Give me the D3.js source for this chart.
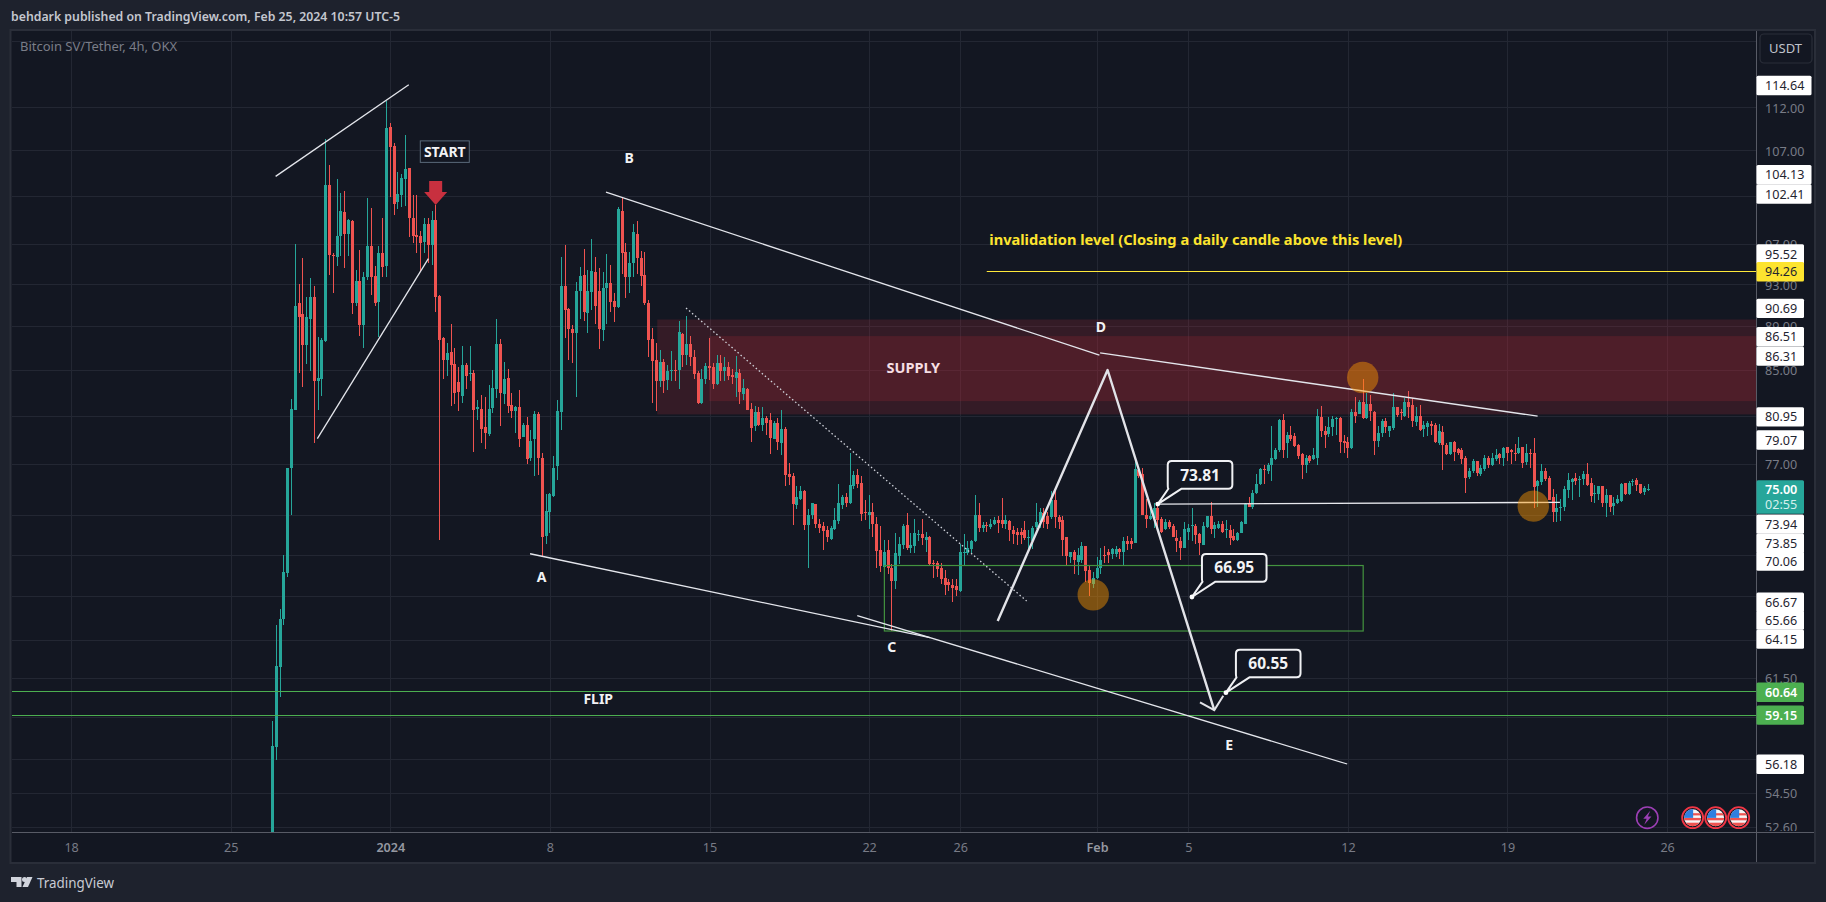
<!DOCTYPE html>
<html><head><meta charset="utf-8">
<script src="https://cdn.jsdelivr.net/npm/d3@7/dist/d3.min.js"></script>
<style>html,body{margin:0;padding:0;background:#1e222d;overflow:hidden}svg{display:block}</style>
</head><body><svg id="c" width="1826" height="902"></svg>
<script>
// ---- candle data: 4h candles ----
const opens = [
50,57.2,62.2,65.4,68.7,76.7,81.5,91.2,90.1,87.2,
89.6,91.7,84.0,84.2,87.6,103.2,95.9,95.7,97.8,100.3,
98.0,99.4,91.2,93.3,89.1,93.7,96.8,93.8,91.3,96.1,
94.8,109.7,107.5,101.3,102.1,103.8,105.0,99.7,97.9,97.8,
97.1,99.1,96.9,99.5,91.8,87.9,85.9,86.6,85.5,83.9,
82.7,85.4,84.6,84.7,81.5,81.6,80.0,79.5,81.7,83.3,
87.3,82.9,84.3,81.9,81.4,81.7,79.2,80.2,77.5,79.0,
81.1,77.5,71.4,73.2,74.5,76.8,81.3,92.8,90.6,88.7,
88.3,92.3,93.9,90.2,92.2,94.2,92.3,88.6,92.6,93.1,
91.4,90.8,100.4,96.2,93.7,95.1,98.0,95.6,93.9,91.2,
87.8,85.9,84.0,85.7,84.1,84.9,85.0,84.9,88.2,86.3,
87.3,86.1,84.7,82.1,84.1,85.3,85.2,83.7,85.6,84.8,
85.2,84.5,84.3,84.7,82.9,83.3,81.6,80.1,81.3,80.2,
80.8,80.6,79.1,80.4,78.7,79.9,76.2,76.0,73.8,74.2,
74.8,72.2,73.0,73.8,72.3,72.1,71.8,71.2,71.9,72.5,
73.8,74.4,73.9,75.2,76.1,75.5,73.2,73.0,73.2,72.3,
70.3,69.1,70.3,69.0,68.1,69.9,70.7,72.2,70.5,70.6,
71.5,71.5,71.1,71.3,69.4,69.4,69.0,68.3,68.0,67.8,
67.7,67.4,70.15,70.1,70.4,71.0,73.0,72.0,72.2,72.1,
72.3,72.6,72.6,72.3,72.5,71.8,71.7,71.7,71.8,71.25,
71.0,72.0,72.4,73.1,72.9,72.8,74.1,72.8,72.6,71.3,
69.8,70.2,69.5,69.6,70.6,68.9,67.9,68.3,69.0,70.0,
70.2,70.0,70.0,70.4,70.2,71.0,71.0,70.9,76.5,76.2,
73.0,72.7,72.7,73.5,72.7,71.9,72.4,72.1,71.2,71.0,
70.5,71.7,72.1,72.1,71.5,70.7,72.1,72.9,71.9,72.0,
72.3,71.8,71.8,71.4,71.1,71.6,72.3,73.9,73.6,74.7,
75.4,76.6,76.4,76.9,77.4,78.1,80.6,78.7,79.4,79.3,
78.5,77.8,76.9,77.6,77.4,77.5,80.9,79.7,79.4,80.0,
80.75,80.8,78.9,78.8,78.3,81.3,81.2,82.2,80.8,82.0,
81.3,78.8,79.5,80.5,79.7,79.9,81.7,81.3,81.0,82.2,
81.9,80.5,81.0,79.9,80.1,80.3,80.2,78.7,79.6,78.5,
77.8,78.8,78.2,78.1,77.5,75.9,76.4,77.2,76.2,76.6,
77.5,76.9,77.4,77.8,77.5,78.4,78.1,77.9,77.9,78.4,
77.2,77.9,77.9,75.2,75.5,76.4,75.9,74.4,73.2,73.5,
73.6,74.9,75.6,75.9,75.75,75.8,76.2,75.5,74.6,74.6,
75.2,73.9,74.5,73.7,73.9,74.1,75.5,74.6,75.5,75.7,
75.4,74.8,75.0];
const highs = [
58.8,65.0,66.1,70.0,76.7,82.4,97.0,93.0,95.6,91.7,
93.6,92.8,88.0,87.9,108.3,105.4,96.1,103.8,102.3,102.5,
99.6,99.5,94.4,96.4,94.2,101.8,100.7,94.8,96.8,99.7,
112.7,110.1,107.9,104.6,104.4,108.7,105.0,102.1,102.1,98.3,
99.7,99.7,100.4,101.1,91.9,88.0,87.4,89.2,87.0,85.2,
87.1,85.6,87.1,85.0,82.3,82.8,82.6,83.6,85.0,89.6,
87.8,85.7,85.1,82.9,81.8,83.2,80.4,80.9,79.8,81.4,
81.3,77.9,74.6,74.7,77.6,82.3,95.7,96.9,90.7,89.1,
93.2,94.7,96.5,94.4,97.5,95.7,94.6,94.2,96.0,94.9,
92.1,100.8,101.9,97.1,96.2,99.0,99.4,96.3,96.2,91.5,
88.8,87.4,86.8,86.0,85.4,86.7,85.9,89.5,88.3,89.9,
88.1,86.8,84.9,85.1,85.6,87.9,85.6,86.3,86.3,86.1,
85.7,85.1,86.2,85.1,84.2,83.4,82.1,81.8,81.7,81.7,
81.0,81.2,80.5,80.8,81.5,80.0,77.1,76.3,75.2,75.2,
74.9,73.4,73.9,73.8,72.7,72.4,72.1,72.1,73.5,75.4,
74.5,74.7,77.9,76.4,76.6,76.0,74.1,74.5,73.9,72.8,
72.1,71.1,71.1,69.3,71.6,71.3,72.3,73.1,71.6,72.7,
71.8,72.7,71.7,71.4,69.6,69.5,69.4,68.9,68.2,68.2,
68.2,70.8,71.5,71.0,71.1,74.5,73.9,72.4,72.4,72.7,
72.8,72.9,74.3,73.0,72.6,72.1,72.0,72.0,72.5,71.8,
72.1,73.9,73.5,73.5,73.2,74.8,74.9,73.0,72.9,71.3,
70.2,70.3,70.5,70.9,70.6,69.2,68.7,69.8,70.5,70.6,
70.4,70.5,70.6,70.5,71.3,71.4,71.2,77.4,76.7,76.7,
74.2,73.5,73.9,73.9,72.8,72.7,72.6,72.3,71.8,71.3,
72.4,72.3,73.5,72.3,71.6,72.4,72.9,74.0,72.4,72.5,
72.5,72.6,72.2,71.9,71.7,72.5,73.9,74.4,74.9,76.2,
76.7,76.9,77.1,80.1,78.3,80.7,81.1,79.6,80.1,79.5,
78.6,77.9,77.7,77.7,78.3,81.6,81.8,80.1,80.9,81.0,
80.9,80.9,79.4,79.2,81.6,82.6,82.3,84.2,82.9,82.8,
81.4,80.1,80.7,80.8,80.1,82.9,81.7,81.6,82.5,83.1,
82.5,81.7,81.9,80.5,80.5,80.5,80.4,80.3,80.1,78.7,
78.8,78.9,78.3,78.3,77.6,76.7,77.4,77.2,76.9,77.7,
77.6,77.9,78.2,77.9,78.4,78.4,78.2,78.6,79.2,78.4,
78.6,78.2,79.1,75.7,77.0,76.7,76.0,75.0,74.6,74.2,
75.2,76.3,75.9,76.3,76.0,76.4,77.1,75.9,75.3,75.25,
75.2,75.0,74.5,74.4,74.5,75.5,75.5,75.6,75.8,75.9,
75.4,75.2,75.4];
const lows = [
49,56.4,60.3,65.0,68.4,73.0,81.5,84.7,83.5,85.5,
84.9,78.7,81.5,82.7,87.5,93.9,92.1,94.8,95.8,94.6,
95.8,90.1,90.9,88.1,87.0,93.4,91.9,90.9,88.0,93.7,
93.7,101.9,100.0,100.6,100.8,100.9,97.7,97.1,96.1,94.3,
96.1,95.1,94.9,90.3,71.1,84.2,84.4,81.8,82.0,81.4,
82.1,83.3,84.0,78.0,80.6,78.7,78.2,79.3,81.2,82.5,
80.1,82.0,81.2,80.8,79.5,78.4,79.2,77.0,77.2,76.0,
76.1,69.9,70.8,71.6,74.4,75.7,79.8,87.9,85.9,85.6,
82.6,89.6,89.5,88.3,90.5,89.2,86.9,87.6,89.2,90.3,
89.4,90.7,94.0,91.6,92.1,93.7,94.0,92.8,91.0,86.1,
82.1,81.4,83.5,82.9,83.2,84.0,84.0,83.3,85.2,85.4,
85.3,84.2,82.0,82.0,83.7,84.1,83.3,83.6,84.0,84.0,
84.1,83.7,82.6,82.0,82.3,81.5,78.8,79.7,80.1,79.7,
79.4,77.8,79.0,78.1,77.7,75.2,75.3,72.2,73.4,74.1,
71.8,69.0,72.7,72.0,71.6,70.3,70.9,71.1,71.8,72.3,
73.4,73.6,73.8,75.0,75.1,72.5,72.6,71.9,71.3,69.0,
68.7,69.0,68.6,64.6,67.5,69.3,70.4,70.3,70.1,70.1,
71.0,70.7,70.2,69.2,68.3,68.4,67.9,67.1,67.4,66.6,
67.0,67.3,69.2,70.0,70.1,70.9,71.7,71.7,71.7,71.9,
72.2,71.6,72.0,71.9,71.0,70.8,70.7,70.8,71.1,70.2,
70.4,71.9,72.0,72.0,71.9,72.7,72.0,71.9,69.9,69.2,
69.4,68.6,68.5,69.4,68.0,67.0,67.6,68.2,68.6,69.4,
69.4,69.7,69.8,69.7,69.2,70.3,70.4,70.9,75.9,73.0,
72.0,72.6,72.0,71.9,71.6,71.8,71.9,71.3,70.2,69.6,
70.5,71.1,71.0,70.8,70.0,70.7,72.0,71.5,71.2,71.9,
71.6,71.2,70.7,71.0,71.0,71.6,72.3,73.6,73.4,74.6,
75.3,75.4,76.2,75.6,77.3,78.0,77.5,77.5,78.9,78.4,
77.4,75.8,76.3,77.1,77.3,76.9,79.2,78.3,79.2,79.3,
79.4,77.9,77.9,77.5,78.2,80.4,81.1,80.7,80.7,80.5,
77.7,78.4,79.2,79.5,79.2,79.8,80.9,80.6,80.9,80.8,
80.0,80.1,79.7,79.2,79.3,79.4,78.7,78.5,76.5,77.7,
77.7,77.2,77.7,77.0,74.7,75.8,76.3,76.0,76.0,76.4,
76.7,76.8,77.2,77.0,76.8,77.2,77.0,77.2,77.8,76.7,
76.9,76.7,73.5,73.6,75.3,75.6,74.1,72.4,72.4,72.5,
73.3,74.3,74.1,75.3,74.4,75.3,75.2,74.0,73.9,74.1,
73.6,72.8,73.2,73.0,73.8,74.0,74.5,74.5,75.2,74.8,
74.6,74.5,74.8];
const closes = [
57.25,62.3,65.4,68.7,76.7,81.6,90.9,89.9,87.2,89.8,
91.7,84.0,84.3,87.7,103.2,95.9,95.8,97.8,100.4,98.0,
99.5,91.2,93.3,89.1,93.7,96.8,93.7,91.2,96.1,94.7,
109.6,107.4,101.2,102.2,103.9,104.9,99.6,97.8,97.7,97.1,
99.0,96.9,99.5,91.8,87.7,85.9,86.5,85.4,82.9,83.0,
85.4,84.4,84.7,81.5,81.7,79.9,79.5,81.6,83.4,87.3,
82.9,84.2,81.9,81.4,81.7,79.0,80.2,77.4,78.9,81.1,
77.4,71.3,73.3,74.6,76.7,81.4,92.8,90.5,88.7,88.3,
92.3,93.8,90.3,92.3,94.3,90.9,88.7,92.6,93.1,91.3,
90.8,100.6,96.1,93.7,95.1,98.2,95.6,93.8,91.2,87.7,
85.8,84.0,85.7,84.0,84.9,85.0,84.9,88.4,86.3,87.3,
86.1,84.6,82.1,84.2,85.3,85.1,83.7,85.6,84.9,85.2,
84.4,84.3,84.8,83.0,83.4,81.5,80.0,81.3,80.2,80.8,
80.4,79.1,80.4,78.8,79.9,76.1,76.0,73.8,74.4,74.8,
72.2,73.0,73.9,72.3,72.0,71.7,71.3,72.0,72.6,73.9,
74.4,73.9,75.3,76.1,75.4,73.1,73.1,73.2,72.3,70.3,
69.1,70.2,69.0,68.1,70.1,70.8,72.1,70.5,70.7,71.6,
71.55,71.2,71.3,69.3,69.3,69.0,68.2,67.8,67.8,67.6,
67.4,70.2,70.2,70.5,71.0,73.0,72.0,72.2,72.1,72.3,
72.6,72.4,72.3,72.6,71.8,71.5,71.5,71.5,71.2,71.3,
72.0,72.4,73.2,72.4,72.3,74.1,72.8,72.4,71.1,69.9,
70.2,69.6,70.0,70.6,68.8,68.0,68.3,69.0,69.6,69.9,
70.0,70.4,70.4,70.2,71.0,70.8,70.8,76.6,76.0,73.0,
72.7,72.9,73.5,72.6,71.7,72.4,72.0,71.3,71.0,70.5,
71.9,72.0,72.2,71.4,70.8,72.1,72.9,71.9,72.2,72.3,
71.7,71.9,71.2,71.1,71.6,72.4,73.8,73.6,74.7,75.4,
76.6,76.5,76.9,77.5,78.1,80.6,78.1,79.4,79.1,78.5,
77.6,76.9,77.5,77.2,77.7,81.0,79.7,79.4,80.0,80.7,
80.8,78.8,78.7,78.3,81.3,81.0,82.2,80.8,82.0,81.4,
78.9,79.5,80.5,80.0,80.1,81.7,81.0,81.2,82.2,81.8,
80.5,81.0,79.8,80.2,80.4,80.1,78.8,79.7,78.5,77.8,
78.8,78.0,77.9,77.4,75.9,76.4,77.2,76.2,76.7,77.5,
76.9,77.5,77.7,77.5,78.3,77.9,77.9,77.85,78.3,77.1,
77.9,77.85,75.2,75.6,76.4,75.8,74.2,73.2,73.5,73.6,
75.0,75.7,75.8,75.7,75.8,76.2,75.3,74.5,74.7,75.2,
73.9,74.5,73.6,73.9,74.2,75.4,74.6,75.5,75.6,75.3,
74.7,75.1,75.0];
const firstCandleDay = -5.1667; // days from 1 Jan 2024
const candleStep = 1 / 6;       // 4h in days

// ---- axes ----
const xTickDays   = [-14, -7, 0, 7, 14, 21, 25, 31, 35, 42, 49, 56];
const xTickLabels = ["18", "25", "2024", "8", "15", "22", "26", "Feb", "5", "12", "19", "26"];
const yTicks = [120, 112, 107, 102, 97, 93, 89, 85, 81, 77, 73, 70, 67, 64, 61.5, 59, 56.5, 54.5, 52.6];
const yTickLabelled = [112, 107, 97, 93, 89, 85, 77, 61.5, 54.5, 52.6];

// ---- price labels on the right axis ----
const labelValues = [114.64,104.13,102.41,95.52,94.26,90.69,86.51,86.31,80.95,79.07,73.94,73.85,70.06,66.67,65.66,64.15,60.64,59.15,56.18];
const labelNudges = [0.7,-1.7,1.8,-4.5,0.5,0.4,-16.2,1,0.7,1.5,21.7,39.5,7.4,1.1,4.6,1.5,1,0.2,0.2];
const lastPrice = 75.00, countdown = "02:55";

// ---- drawings [day, price] ----
const trendLines = [
  [[-5.03,104.13],[0.81,114.64]],
  [[-3.20,79.07],[1.67,95.52]],
  [[9.46,102.41],[31.10,86.31]],
  [[31.13,86.51],[50.32,80.95]],
  [[6.13,70.06],[23.67,64.15]],
  [[20.48,65.66],[41.97,56.18]]
];
const dottedLine = [[12.97,90.69],[27.91,66.67]];
const levelLine  = [33.66,73.81,51.3,73.94];
const zigzag     = [[26.64,65.28],[31.46,84.97],[36.14,59.45]];
const invalidationLevel = 94.26, invalidationStart = 26.16;
const flipLevels = [60.64, 59.15];
const greenBox   = [21.67,69.2,42.67,64.6];
const supplyOuter = [11.71,89.6,81.1];
const supplyInner = [13.99,88.05,82.24];
const circleDays   = [30.83,42.65,50.13];
const circlePrices = [67.1,84.3,73.65];
const calloutDays   = [33.66,35.16,36.65];
const calloutPrices = [73.81,66.95,60.55];
const letterText  = ["A","B","C","D","E","FLIP"];
const letterDays  = [6.64,10.48,21.99,31.17,36.79,9.12];
const letterPrice = [68.46,106.3,63.6,88.98,57.35,60.2];
const startDay = 2.39, startPrice = 106.9, arrowDay = 1.99, arrowPrice = 101.05;
const supplyDay = 22.94, supplyPrice = 85.2;
const noteText = "invalidation level (Closing a daily candle above this level)";
const noteDay = 26.27, notePrice = 97.4;
const boltDay = 55.13, flagDays = [57.12,58.13,59.14];

// ---- layout ----
const FF = '"Noto Sans","Open Sans",sans-serif';
const plot = {l:12, r:1756, t:31, b:832, R:1814, B:862};
const x = d3.scaleLinear().domain([-14,56]).range([71.1,1667.1]);
const y = d3.scaleLog().domain([112,52.6]).range([107,826.7]);
const svg = d3.select("#c");
const defs = svg.append("defs");
defs.append("clipPath").attr("id","plotClip").append("rect")
  .attr("x",plot.l).attr("y",plot.t).attr("width",plot.r-plot.l).attr("height",plot.b-plot.t);
defs.append("clipPath").attr("id","axisClip").append("rect")
  .attr("x",plot.r).attr("y",plot.t).attr("width",plot.R-plot.r).attr("height",plot.b-plot.t-1);

svg.append("rect").attr("width",1826).attr("height",902).attr("fill","#1e222d");
svg.append("rect").attr("x",10.5).attr("y",30).attr("width",1804.5).attr("height",833)
  .attr("fill","#131722").attr("stroke","#2a2e39").attr("stroke-width",2);

svg.append("text").attr("x",11).attr("y",20.5).attr("fill","#c4c7cf")
  .attr("font-family",FF).attr("font-size",13.2).attr("font-weight",600)
  .attr("textLength",389).attr("lengthAdjust","spacingAndGlyphs")
  .text("behdark published on TradingView.com, Feb 25, 2024 10:57 UTC-5");

// grid
const main = svg.append("g").attr("clip-path","url(#plotClip)");
const gridColor = "#232733";
main.selectAll("line.gv").data(xTickDays).join("line")
  .attr("x1",d=>Math.round(x(d))+.5).attr("x2",d=>Math.round(x(d))+.5)
  .attr("y1",plot.t).attr("y2",plot.b).attr("stroke",gridColor);
main.selectAll("line.gh").data(yTicks).join("line")
  .attr("x1",plot.l).attr("x2",plot.r)
  .attr("y1",d=>Math.round(y(d))+.5).attr("y2",d=>Math.round(y(d))+.5).attr("stroke",gridColor);

main.append("text").attr("x",20).attr("y",50.5).attr("fill","#7a7d88")
  .attr("font-family",FF).attr("font-size",13).text("Bitcoin SV/Tether, 4h, OKX");

// supply zones
const supplyFill = "#b22838";
[supplyOuter, supplyInner].forEach(z=>{
  main.append("rect").attr("x",x(z[0])).attr("width",plot.r-x(z[0]))
    .attr("y",y(z[1])).attr("height",y(z[2])-y(z[1])).attr("fill",supplyFill).attr("fill-opacity",.215);
});
main.append("text").attr("x",x(supplyDay)).attr("y",y(supplyPrice)).attr("dy","0.4em").attr("text-anchor","middle")
  .attr("fill","#f6dfe3").attr("font-family",FF).attr("font-size",14.5).attr("font-weight",700).text("SUPPLY");

// candles
const candles = opens.map((o,i)=>({o,h:highs[i],l:lows[i],c:closes[i],d:firstCandleDay+i*candleStep}));
const colr = d=>d.c>=d.o?"#26a69a":"#ef5350";
const cg = main.append("g").attr("shape-rendering","crispEdges");
cg.selectAll("rect.w").data(candles).join("rect")
  .attr("x",d=>Math.round(x(d.d)-.5)).attr("width",1)
  .attr("y",d=>y(d.h)).attr("height",d=>Math.max(1,y(d.l)-y(d.h))).attr("fill",colr);
cg.selectAll("rect.b").data(candles).join("rect")
  .attr("x",d=>Math.round(x(d.d)-.5)-1).attr("width",3)
  .attr("y",d=>Math.round(y(Math.max(d.o,d.c))))
  .attr("height",d=>Math.max(1,Math.round(Math.abs(y(d.o)-y(d.c))))).attr("fill",colr);

// horizontal levels and box
const crisp = v=>Math.round(y(v))+.5;
main.append("line").attr("x1",x(invalidationStart)).attr("x2",plot.r)
  .attr("y1",crisp(invalidationLevel)).attr("y2",crisp(invalidationLevel)).attr("stroke","#ffe93b");
main.selectAll("line.fl").data(flipLevels).join("line")
  .attr("x1",plot.l).attr("x2",plot.r).attr("y1",d=>crisp(d)+(d<60?.0:0)).attr("y2",d=>crisp(d)).attr("stroke","#4caf50");
main.append("rect").attr("x",x(greenBox[0])).attr("y",y(greenBox[1]))
  .attr("width",x(greenBox[2])-x(greenBox[0])).attr("height",y(greenBox[3])-y(greenBox[1]))
  .attr("fill","none").attr("stroke","#43933f").attr("stroke-width",1.2);

// lines
const ln = d3.line().x(d=>x(d[0])).y(d=>y(d[1]));
main.selectAll("path.t").data(trendLines).join("path").attr("d",ln)
  .attr("fill","none").attr("stroke","#e4e6ec").attr("stroke-width",1.3);
main.append("path").attr("d",ln(dottedLine)).attr("fill","none").attr("stroke","#d1d4dc")
  .attr("stroke-width",1.3).attr("stroke-dasharray","1.5 2.5");
main.append("path").attr("d",ln([[levelLine[0],levelLine[1]],[levelLine[2],levelLine[3]]]))
  .attr("fill","none").attr("stroke","#e8e9ee").attr("stroke-width",1.4);

// circles
main.selectAll("circle.o").data(circleDays).join("circle")
  .attr("cx",d=>x(d)).attr("cy",(d,i)=>y(circlePrices[i])).attr("r",15.7)
  .attr("fill","#ff9800").attr("fill-opacity",.45);

// zigzag with arrow head
main.append("path").attr("d",ln(zigzag)).attr("fill","none").attr("stroke","#e2e3e8")
  .attr("stroke-width",2.4).attr("stroke-linejoin","round");
const tip = zigzag[2];
main.append("path").attr("d",`M${x(tip[0])-14.3},${y(tip[1])-7.7}L${x(tip[0])},${y(tip[1])}L${x(tip[0])+9},${y(tip[1])-14.3}`)
  .attr("fill","none").attr("stroke","#e2e3e8").attr("stroke-width",2);

// text annotations
main.selectAll("text.l").data(letterText).join("text")
  .attr("x",(d,i)=>x(letterDays[i])).attr("y",(d,i)=>y(letterPrice[i])).attr("dy","0.42em")
  .attr("text-anchor","middle").attr("fill","#f2f3f5").attr("font-family",FF).attr("font-size",14).attr("font-weight",700).text(d=>d);
main.append("text").attr("x",x(noteDay)).attr("y",y(notePrice)).attr("dy","0.36em")
  .attr("fill","#fde42f").attr("font-family",FF).attr("font-size",14).attr("font-weight",700)
  .attr("textLength",413).attr("lengthAdjust","spacingAndGlyphs").text(noteText);

// START tag + arrow
const sx=x(startDay), sy=y(startPrice);
main.append("rect").attr("x",sx-24.5).attr("y",sy-10.5).attr("width",49).attr("height",21.5)
  .attr("fill","#131722").attr("stroke","#5a6a7a");
main.append("text").attr("x",sx).attr("y",sy).attr("dy","0.42em").attr("text-anchor","middle")
  .attr("fill","#f2f3f5").attr("font-family",FF).attr("font-size",14).attr("font-weight",700).text("START");
const ax=x(arrowDay), ay=y(arrowPrice);
main.append("path").attr("fill","#c8303f")
  .attr("d",`M${ax},${ay}L${ax-11.5},${ay-13}L${ax-6.5},${ay-13}L${ax-6.5},${ay-24}L${ax+6.5},${ay-24}L${ax+6.5},${ay-13}L${ax+11.5},${ay-13}Z`);

// callouts
calloutPrices.forEach((p,i)=>{
  const tx=x(calloutDays[i]), ty=y(p), L=tx+10, R=tx+74.6, T=ty-43, B=ty-15.3, r=4;
  const g=main.append("g");
  g.append("path").attr("fill","#131722").attr("stroke","#f0f1f4").attr("stroke-width",2).attr("stroke-linejoin","round")
    .attr("d",`M${tx},${ty}L${L+13.5},${B}L${R-r},${B}Q${R},${B} ${R},${B-r}L${R},${T+r}Q${R},${T} ${R-r},${T}L${L+r},${T}Q${L},${T} ${L},${T+r}L${L},${B-r}Q${L},${B} ${L+0.6},${B}Z`);
  g.append("circle").attr("cx",tx).attr("cy",ty).attr("r",2.4).attr("fill","#fff");
  g.append("text").attr("x",(L+R)/2).attr("y",(T+B)/2).attr("dy","0.36em").attr("text-anchor","middle")
    .attr("fill","#f2f3f5").attr("font-family",FF).attr("font-size",15.5).attr("font-weight",700).text(p.toFixed(2));
});

// event icons
const iy=817.7;
const bx=x(boltDay);
main.append("circle").attr("cx",bx).attr("cy",iy).attr("r",10.7).attr("fill","#131722").attr("stroke","#9c3fb5").attr("stroke-width",1.6);
main.append("path").attr("fill","#9c3fb5").attr("d",`M${bx+3},${iy-7}L${bx-4},${iy+1}L${bx-0.6},${iy+1}L${bx-3},${iy+7}L${bx+4.2},${iy-1.2}L${bx+0.6},${iy-1.2}Z`);
flagDays.forEach((d,i)=>{
  const fx=x(d), id="fc"+i;
  defs.append("clipPath").attr("id",id).append("circle").attr("cx",fx).attr("cy",iy).attr("r",8.5);
  const g=main.append("g").attr("clip-path",`url(#${id})`);
  g.append("rect").attr("x",fx-9).attr("y",iy-9).attr("width",18).attr("height",18).attr("fill","#f5f5f5");
  [[-4.5,2.2],[0.2,2.4],[5,4.5]].forEach(s=>g.append("rect").attr("x",fx-9).attr("y",iy+s[0]).attr("width",18).attr("height",s[1]).attr("fill","#ef5350"));
  g.append("rect").attr("x",fx-9).attr("y",iy-9).attr("width",9.5).attr("height",9.2).attr("fill","#2f7fe0");
  main.append("circle").attr("cx",fx).attr("cy",iy).attr("r",10.5).attr("fill","none").attr("stroke","#f23645").attr("stroke-width",1.8);
});

// right axis panel
svg.append("rect").attr("x",plot.r).attr("y",31).attr("width",plot.R-plot.r).attr("height",831).attr("fill","#131722");
const yAxis = d3.axisRight(y).tickValues(yTickLabelled).tickSize(0).tickPadding(0).tickFormat(d3.format(".2f"));
const yg = svg.append("g").attr("clip-path","url(#axisClip)").append("g").attr("transform",`translate(${plot.r+9},1)`).call(yAxis);
yg.select(".domain").remove();
yg.selectAll("text").attr("fill","#787b86").attr("font-family",FF).attr("font-size",12.6);

// x axis
const xAxis = d3.axisBottom(x).tickValues(xTickDays).tickSize(0).tickPadding(0).tickFormat((d,i)=>xTickLabels[i]);
const xg = svg.append("g").attr("transform",`translate(0,${plot.b+11})`).call(xAxis);
xg.select(".domain").remove();
xg.selectAll("text").attr("fill",(d,i)=>/\D/.test(xTickLabels[i])||xTickLabels[i]==="2024"?"#9598a1":"#787b86")
  .attr("font-family",FF).attr("font-size",12.6)
  .attr("font-weight",(d,i)=>/\D/.test(xTickLabels[i])||xTickLabels[i]==="2024"?600:400);

svg.append("line").attr("x1",plot.l).attr("x2",plot.R).attr("y1",plot.b+.5).attr("y2",plot.b+.5).attr("stroke","#585b66");
svg.append("line").attr("x1",plot.r+.5).attr("x2",plot.r+.5).attr("y1",31).attr("y2",plot.B).attr("stroke","#585b66");

// USDT
svg.append("rect").attr("x",1760).attr("y",34).attr("width",52).attr("height",29).attr("rx",4)
  .attr("fill","#131722").attr("stroke","#2a2e39").attr("stroke-width",1.2);
svg.append("text").attr("x",1785.5).attr("y",48.5).attr("dy","0.36em").attr("text-anchor","middle")
  .attr("fill","#c0c3cb").attr("font-family",FF).attr("font-size",13).text("USDT");

// price labels
const labelFill = v=> v===94.26?"#fde42f": flipLevels.includes(v)?"#4caf50":"#ffffff";
const labelText = v=> flipLevels.includes(v)?"#ffffff":"#1f2430";
const labels = svg.append("g");
labelValues.forEach((v,i)=>{
  const cy=y(v)+labelNudges[i], w=v>=100?55:47.5;
  labels.append("rect").attr("x",plot.r+.5).attr("y",cy-9.7).attr("width",w).attr("height",19.4).attr("rx",1.5).attr("fill",labelFill(v));
});
labelValues.forEach((v,i)=>{
  const cy=y(v)+labelNudges[i];
  labels.append("text").attr("x",plot.r+9).attr("y",cy).attr("dy","0.36em")
    .attr("fill",labelText(v)).attr("font-family",FF).attr("font-size",12.6)
    .attr("font-weight",flipLevels.includes(v)?600:400).text(v.toFixed(2));
});
const lp=y(lastPrice);
labels.append("rect").attr("x",plot.r+.5).attr("y",lp-8.5).attr("width",47.5).attr("height",33.5).attr("rx",1.5).attr("fill","#26a69a");
labels.append("text").attr("x",plot.r+9).attr("y",lp+1).attr("dy","0.36em").attr("fill","#fff").attr("font-family",FF).attr("font-size",12.6).attr("font-weight",600).text(lastPrice.toFixed(2));
labels.append("text").attr("x",plot.r+9).attr("y",lp+16).attr("dy","0.36em").attr("fill","#d6f0ed").attr("font-family",FF).attr("font-size",12.6).text(countdown);

// TradingView footer
const logo=svg.append("g").attr("fill","#d1d4dc");
logo.append("path").attr("d","M11,877H21.5V887H16.5V882H11Z");
logo.append("circle").attr("cx",24.5).attr("cy",879.5).attr("r",2.5);
logo.append("path").attr("d","M27,877H32.5L28,887H22.5Z");
svg.append("text").attr("x",37).attr("y",883).attr("dy","0.36em").attr("fill","#c8cbd3")
  .attr("font-family",FF).attr("font-size",14.5).attr("textLength",77).attr("lengthAdjust","spacingAndGlyphs").text("TradingView");
</script></body></html>
